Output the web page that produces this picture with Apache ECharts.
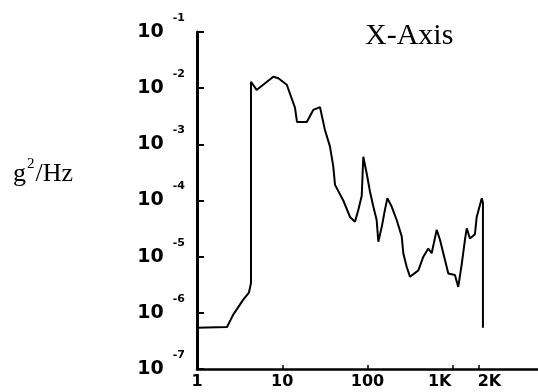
<!DOCTYPE html>
<html>
<head>
<meta charset="utf-8">
<script src="https://cdn.jsdelivr.net/npm/echarts@6/dist/echarts.min.js"></script>
<style>
  html, body { margin: 0; padding: 0; background: #fff; }
  #main { width: 538px; height: 392px; }
</style>
</head>
<body>
<div id="main"></div>
<script>
// frequency (Hz) / PSD (g^2/Hz)
var freq = [1, 2.25, 2.64, 3.47, 4.07, 4.3, 4.3, 5.0, 7.85, 9.0,
  11.3, 14.1, 14.9, 19.4, 23.1, 27.7, 31.7, 36.3, 39.7, 41.6,
  52, 62.3, 71.3, 78, 85.5, 89.3, 98, 107, 117, 128,
  134, 147, 160, 171, 192, 220, 252, 263, 288, 315,
  395, 452, 517, 566, 648, 708, 811, 887, 1060, 1160,
  1270, 1390, 1460, 1590, 1820, 1910, 2190, 2260, 2260];
var psd = [5.4e-7, 5.6e-7, 9.1e-7, 1.7e-6, 2.3e-6, 3.4e-6, 1.3e-2, 9.3e-3, 1.6e-2, 1.5e-2,
  1.15e-2, 4.5e-3, 2.5e-3, 2.5e-3, 4.1e-3, 4.6e-3, 1.8e-3, 9.1e-4, 4.0e-4, 1.9e-4,
  1.0e-4, 5.1e-5, 4.2e-5, 6.8e-5, 1.2e-4, 6.0e-4, 3.0e-4, 1.43e-4, 7.8e-5, 4.5e-5,
  1.85e-5, 3.4e-5, 6.8e-5, 1.1e-4, 7.8e-5, 4.5e-5, 2.3e-5, 1.15e-5, 6.6e-6, 4.4e-6,
  5.7e-6, 1.0e-5, 1.4e-5, 1.15e-5, 3.0e-5, 2.0e-5, 8.7e-6, 5.0e-6, 4.7e-6, 2.9e-6,
  7.1e-6, 2.0e-5, 3.2e-5, 2.1e-5, 2.5e-5, 5.1e-5, 1.1e-4, 9.0e-5, 5.4e-7];

var xTicks = [1, 10, 100, 1000, 2000];
var xTickText = ['1', '10', '100', '1K', '2K'];
var xTickStyle = ['n', 'n', 'n', 'l', 'r'];   // 1K / 2K are pushed apart in the original

var chartTitle = 'X-Axis';
var yTitle = '{a|g}{s|2}{a|/Hz}';

var pts = [];
for (var i = 0; i < freq.length; i++) pts.push([freq[i], psd[i]]);

var tickFont = { fontFamily: 'DejaVu Sans', fontWeight: 'bold', color: '#000' };
var serif = { fontFamily: 'Liberation Serif', fontWeight: 'normal', color: '#000' };

var myChart = echarts.init(document.getElementById('main'));
myChart.setOption({
  animation: false,
  backgroundColor: '#fff',
  title: [{
    text: chartTitle,
    left: 365, top: 21, padding: 0,
    textStyle: Object.assign({ fontSize: 30 }, serif)
  }, {
    text: yTitle,
    left: 13, top: 157, padding: 0,
    textStyle: Object.assign({
      fontSize: 26,
      rich: {
        a: Object.assign({ fontSize: 26, verticalAlign: 'middle' }, serif),
        s: Object.assign({ fontSize: 15, padding: [0, 1, 20, 1], verticalAlign: 'middle' }, serif)
      }
    }, serif)
  }],
  grid: { left: 197, right: 0, top: 32, bottom: 23 },
  xAxis: {
    type: 'log', logBase: 10,
    min: 1, max: 10000,
    axisLine: { lineStyle: { color: '#000', width: 2.5 } },
    axisTick: { inside: true, length: 4, customValues: xTicks, lineStyle: { color: '#000', width: 1.5 } },
    splitLine: { show: false },
    axisLabel: {
      customValues: xTicks,
      margin: 5,
      formatter: function (v) {
        for (var k = 0; k < xTicks.length; k++) {
          if (Math.abs(Math.log10(v) - Math.log10(xTicks[k])) < 0.01) {
            return '{' + xTickStyle[k] + '|' + xTickText[k] + '}';
          }
        }
        return '';
      },
      rich: {
        n: Object.assign({ fontSize: 16 }, tickFont),
        l: Object.assign({ fontSize: 16, padding: [0, 26, 0, 0] }, tickFont),
        r: Object.assign({ fontSize: 16, padding: [0, 0, 0, 22] }, tickFont)
      }
    }
  },
  yAxis: {
    type: 'log', logBase: 10,
    min: 1e-7, max: 1e-1,
    axisLine: { lineStyle: { color: '#000', width: 3 } },
    axisTick: { inside: true, length: 7, lineStyle: { color: '#000', width: 2 } },
    splitLine: { show: false },
    axisLabel: {
      margin: 12,
      formatter: function (v) {
        var e = Math.round(Math.log10(v));
        return '{b|10}{e|' + e + '}';
      },
      rich: {
        b: Object.assign({ fontSize: 19, verticalAlign: 'middle' }, tickFont),
        e: Object.assign({ fontSize: 11, padding: [0, 0, 28, 9], verticalAlign: 'middle' }, tickFont)
      }
    }
  },
  series: [{
    type: 'line',
    data: pts,
    showSymbol: false,
    lineStyle: { color: '#000', width: 2 },
    itemStyle: { color: '#000' }
  }]
});
</script>
</body>
</html>
